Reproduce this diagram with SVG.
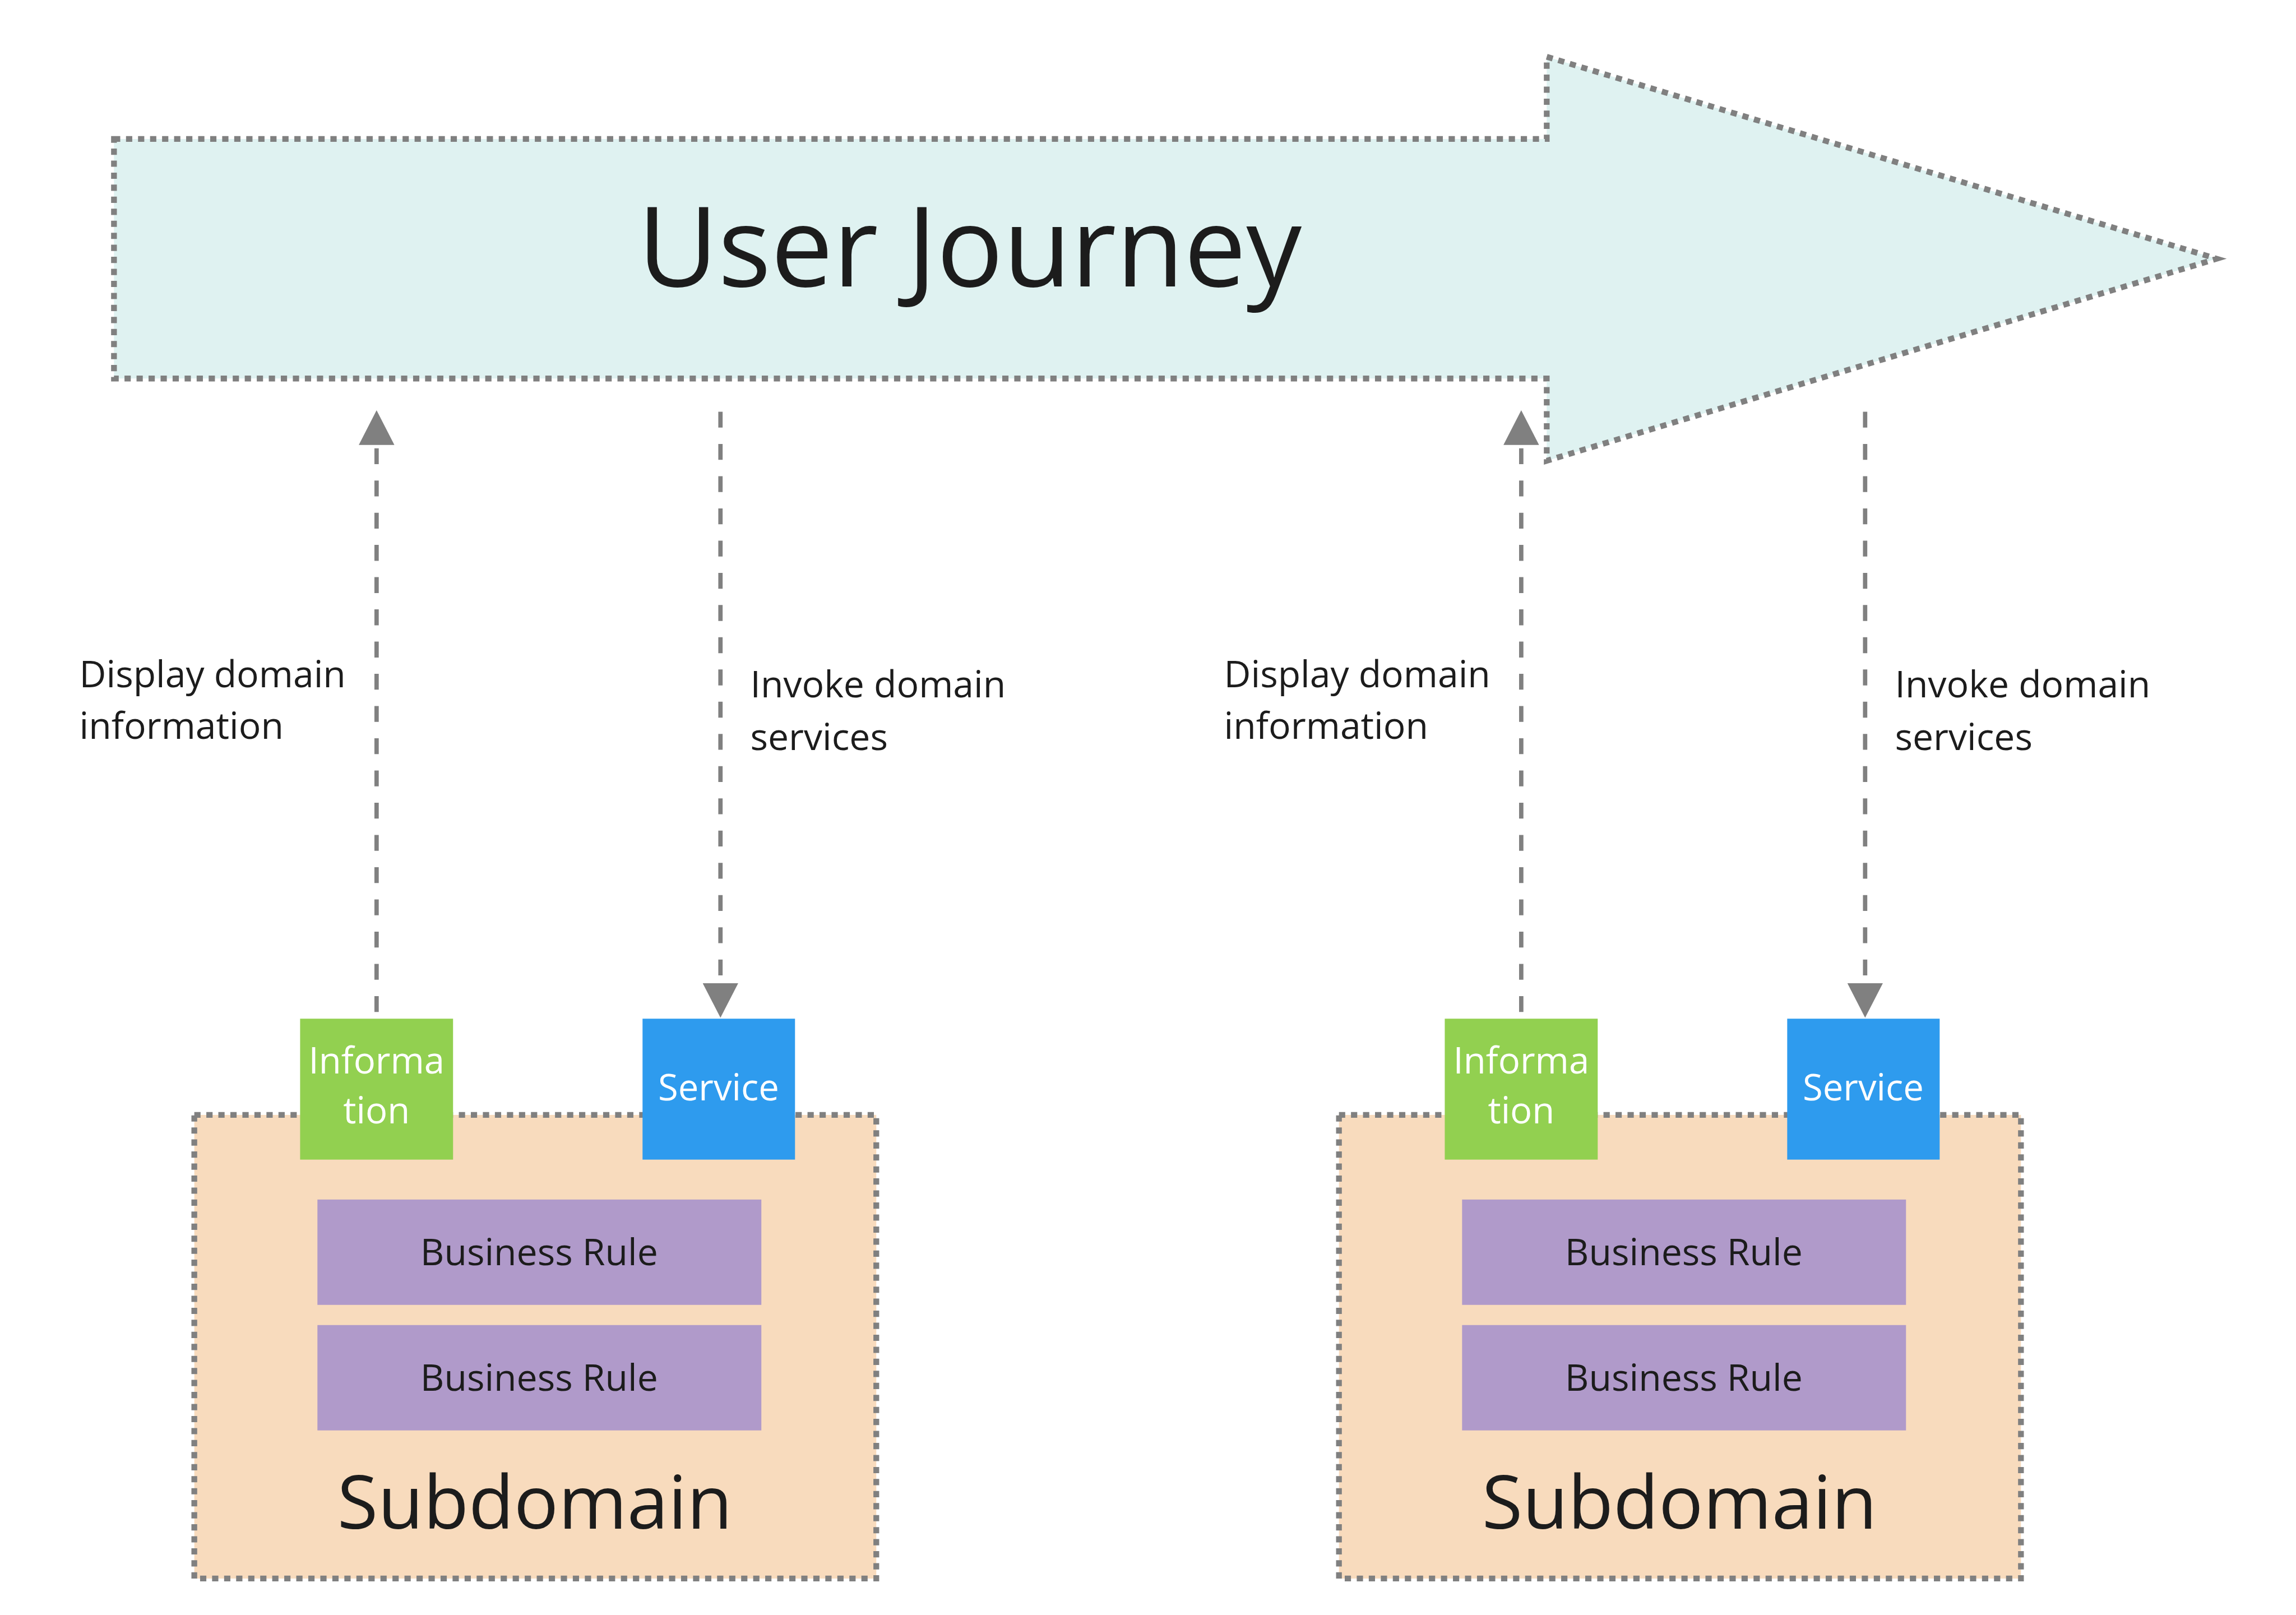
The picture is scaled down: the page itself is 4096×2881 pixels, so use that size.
<svg xmlns="http://www.w3.org/2000/svg" width="4096" height="2881" viewBox="0 0 4096 2881">
<defs>
<style>
.txt{font-family:"Open Sans","Noto Sans","DejaVu Sans",sans-serif;fill:#1c1c1c}
.wt{font-family:"Open Sans","Noto Sans","DejaVu Sans",sans-serif;fill:#ffffff;font-size:76px;text-anchor:middle}
.lbl{font-size:77px}
.dot{stroke:#808080;stroke-width:12;stroke-dasharray:13 12}
.conn{stroke:#808080;stroke-width:9;stroke-dasharray:33 34;fill:none}
.rule{fill:#b09aca}
</style>
<marker id="ah" viewBox="0 0 72 74" refX="0" refY="37" markerWidth="72" markerHeight="74" markerUnits="userSpaceOnUse" orient="auto">
<path d="M0,0 L72,37 L0,74 z" fill="#808080"/>
</marker>
</defs>
<rect width="4096" height="2881" fill="#ffffff"/>
<g transform="scale(0.858)">
<g id="user-journey">
<path class="dot" d="M237,289 H3216 V118 L4609,538 L3216,958 V787 H237 Z" fill="#dff2f1"/>
<text class="txt" x="2016" y="595" font-size="230" text-anchor="middle">User Journey</text>
</g>
<g id="subdomain-1">
<rect class="dot" x="404" y="2318" width="1418" height="964" fill="#f8dbbd"/>
<text class="txt" x="1112" y="3178" font-size="154" text-anchor="middle">Subdomain</text>
</g>
<g id="subdomain-2">
<rect class="dot" x="2784" y="2318" width="1418" height="964" fill="#f8dbbd"/>
<text class="txt" x="3492" y="3178" font-size="154" text-anchor="middle">Subdomain</text>
</g>
<g id="information-1">
<rect x="624" y="2118" width="318" height="293" fill="#92d050"/>
<text class="wt" x="783" y="2232">Informa</text>
<text class="wt" x="783" y="2336">tion</text>
</g>
<g id="service-1">
<rect x="1336" y="2118" width="317" height="293" fill="#2e9bee"/>
<text class="wt" x="1494" y="2288">Service</text>
</g>
<g id="information-2">
<rect x="3004" y="2118" width="318" height="293" fill="#92d050"/>
<text class="wt" x="3163" y="2232">Informa</text>
<text class="wt" x="3163" y="2336">tion</text>
</g>
<g id="service-2">
<rect x="3716" y="2118" width="317" height="293" fill="#2e9bee"/>
<text class="wt" x="3874" y="2288">Service</text>
</g>
<g id="rule-1a">
<rect class="rule" x="660" y="2494" width="923" height="219"/>
<text class="txt lbl" x="1121" y="2631" text-anchor="middle">Business Rule</text>
</g>
<g id="rule-1b">
<rect class="rule" x="660" y="2755" width="923" height="219"/>
<text class="txt lbl" x="1121" y="2892" text-anchor="middle">Business Rule</text>
</g>
<g id="rule-2a">
<rect class="rule" x="3040" y="2494" width="923" height="219"/>
<text class="txt lbl" x="3501" y="2631" text-anchor="middle">Business Rule</text>
</g>
<g id="rule-2b">
<rect class="rule" x="3040" y="2755" width="923" height="219"/>
<text class="txt lbl" x="3501" y="2892" text-anchor="middle">Business Rule</text>
</g>
<g id="connectors">
<path class="conn" d="M783,2104 V925" marker-end="url(#ah)"/>
<path class="conn" d="M1498,856 V2044" marker-end="url(#ah)"/>
<path class="conn" d="M3163,2104 V925" marker-end="url(#ah)"/>
<path class="conn" d="M3878,856 V2044" marker-end="url(#ah)"/>
<text class="txt lbl" x="165" y="1429">Display domain</text>
<text class="txt lbl" x="165" y="1536">information</text>
<text class="txt lbl" x="1560" y="1450">Invoke domain</text>
<text class="txt lbl" x="1560" y="1559">services</text>
<text class="txt lbl" x="2545" y="1429">Display domain</text>
<text class="txt lbl" x="2545" y="1536">information</text>
<text class="txt lbl" x="3940" y="1450">Invoke domain</text>
<text class="txt lbl" x="3940" y="1559">services</text>
</g>
</g>
</svg>
